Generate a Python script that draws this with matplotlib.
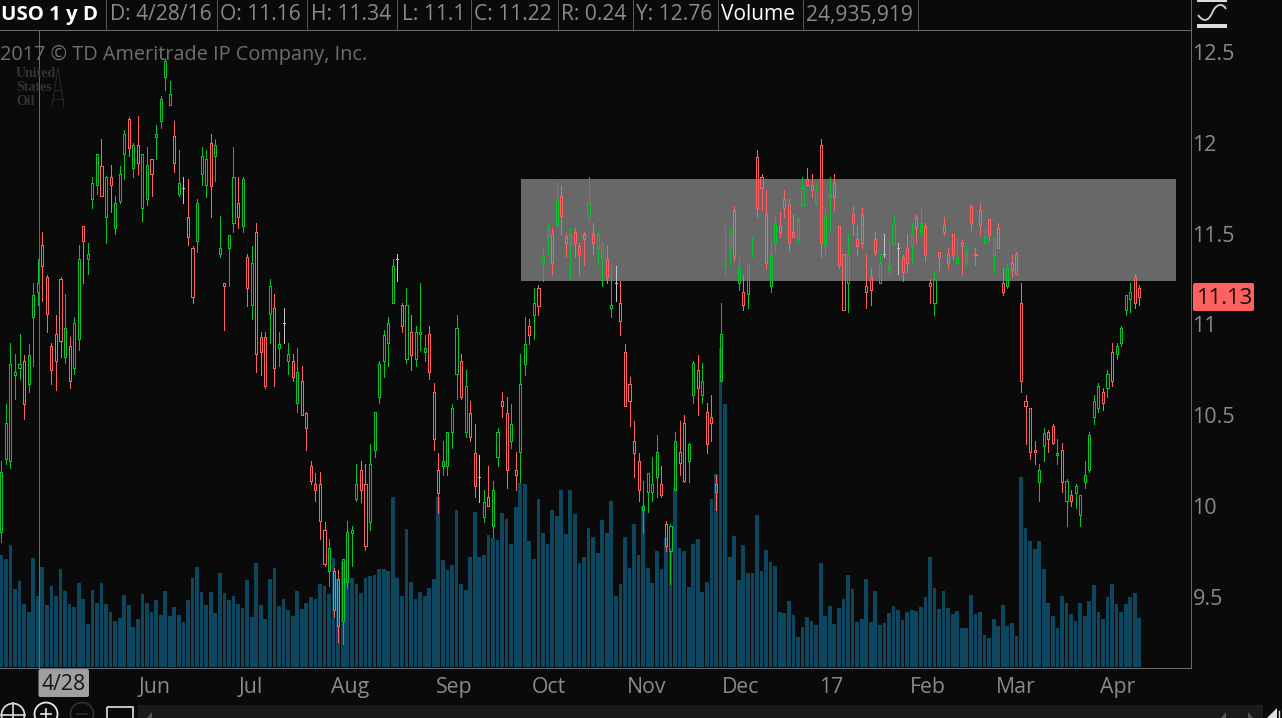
import matplotlib
matplotlib.use("Agg")
import matplotlib.pyplot as plt
from matplotlib.patches import Rectangle, Circle, FancyBboxPatch, Polygon, PathPatch
from matplotlib.path import Path
from matplotlib.lines import Line2D

plt.rcParams['font.family'] = ['Open Sans', 'DejaVu Sans']

high = [10.25,10.56,10.90,10.84,10.95,10.83,10.89,11.23,11.36,11.51,
11.27,10.90,11.05,11.26,11.17,10.93,11.04,11.44,11.54,11.45,
11.81,11.94,12.02,11.82,11.88,11.71,11.87,12.07,12.14,12.00,
12.15,11.94,11.98,11.91,12.10,12.26,12.47,12.34,12.12,11.96,
11.81,11.80,11.43,11.69,11.98,11.96,12.05,12.02,11.60,11.23,
11.49,11.98,11.81,11.81,11.39,11.43,11.56,10.96,10.96,11.25,
11.17,10.96,11.09,10.90,10.84,10.87,10.77,10.52,10.25,10.18,
10.19,9.91,9.82,9.66,9.65,9.71,9.92,9.89,10.23,10.25,
10.23,10.34,10.52,10.80,10.97,11.04,11.36,11.39,11.12,11.20,
11.05,10.99,11.23,10.94,10.99,10.68,10.29,10.36,10.41,10.56,
11.05,10.84,10.75,10.58,10.45,10.28,10.09,10.22,10.14,10.43,
10.63,10.60,10.56,10.30,10.84,11.04,11.03,11.20,11.22,11.42,
11.56,11.53,11.78,11.76,11.50,11.53,11.53,11.45,11.51,11.81,
11.56,11.51,11.45,11.44,11.33,11.32,11.24,10.89,10.71,10.47,
10.29,10.14,10.18,10.27,10.39,10.22,9.92,9.90,10.41,10.47,
10.50,10.35,10.80,10.83,10.79,10.57,10.61,10.17,11.12,11.54,
11.53,11.65,11.37,11.27,11.33,11.48,11.96,11.83,11.74,11.47,
11.60,11.62,11.74,11.69,11.61,11.59,11.81,11.86,11.83,11.78,
12.02,11.64,11.81,11.83,11.54,11.39,11.50,11.65,11.55,11.64,
11.39,11.31,11.51,11.39,11.50,11.47,11.60,11.45,11.38,11.50,
11.56,11.61,11.64,11.56,11.25,11.29,11.40,11.59,11.42,11.50,
11.47,11.47,11.43,11.66,11.42,11.67,11.53,11.58,11.48,11.56,
11.31,11.34,11.38,11.40,11.23,10.61,10.54,10.36,10.23,10.43,
10.42,10.45,10.37,10.35,10.15,10.09,10.12,10.06,10.25,10.41,
10.61,10.68,10.65,10.75,10.90,10.90,10.99,11.16,11.23,11.28,11.22]

body_top = [10.19,10.46,10.78,10.74,10.78,10.80,10.83,11.16,11.23,11.44,
11.26,10.88,10.95,11.25,10.98,10.88,11.01,11.36,11.54,11.39,
11.78,11.94,11.87,11.81,11.81,11.67,11.83,12.05,12.13,11.99,
11.99,11.94,11.88,11.91,12.05,12.24,12.45,12.27,12.04,11.78,
11.75,11.59,11.42,11.67,11.93,11.91,12.00,11.99,11.42,11.23,
11.49,11.81,11.67,11.80,11.37,11.34,11.51,10.93,10.93,11.21,
11.09,10.89,11.01,10.84,10.80,10.74,10.69,10.51,10.22,10.12,
10.12,9.87,9.77,9.64,9.60,9.71,9.86,9.87,10.12,10.20,
10.12,10.23,10.52,10.78,10.94,11.01,11.32,11.36,11.11,11.11,
10.96,10.96,10.96,10.87,10.95,10.63,10.20,10.25,10.41,10.54,
10.98,10.80,10.66,10.51,10.29,10.16,10.02,10.05,10.09,10.41,
10.58,10.51,10.45,10.20,10.67,10.89,10.99,11.12,11.20,11.37,
11.53,11.50,11.69,11.71,11.48,11.50,11.51,11.43,11.50,11.67,
11.50,11.50,11.45,11.36,11.11,11.23,11.12,10.85,10.67,10.36,
10.25,10.00,10.18,10.12,10.30,10.12,9.90,9.89,10.36,10.30,
10.46,10.34,10.79,10.75,10.69,10.52,10.49,10.12,10.95,11.34,
11.50,11.63,11.31,11.18,11.33,11.45,11.92,11.81,11.61,11.38,
11.56,11.54,11.69,11.66,11.51,11.58,11.75,11.80,11.77,11.74,
11.99,11.60,11.72,11.78,11.54,11.39,11.39,11.61,11.47,11.61,
11.21,11.26,11.47,11.34,11.39,11.33,11.55,11.42,11.37,11.42,
11.50,11.59,11.56,11.54,11.23,11.25,11.40,11.55,11.39,11.50,
11.37,11.45,11.40,11.65,11.39,11.63,11.48,11.58,11.47,11.53,
11.23,11.31,11.34,11.39,11.12,10.58,10.54,10.31,10.20,10.40,
10.41,10.44,10.29,10.31,10.14,10.06,10.11,10.06,10.17,10.39,
10.58,10.66,10.63,10.73,10.85,10.88,10.98,11.16,11.18,11.26,11.20]

body_bottom = [9.86,10.26,10.25,10.72,10.76,10.56,10.67,11.04,11.18,11.32,
11.06,10.75,10.80,10.91,10.82,10.69,10.76,10.92,11.46,11.36,
11.69,11.77,11.71,11.59,11.77,11.53,11.68,11.94,11.97,11.86,
11.89,11.64,11.69,11.83,12.03,12.12,12.36,12.21,11.89,11.72,
11.75,11.48,11.15,11.46,11.83,11.77,11.76,11.93,11.39,11.21,
11.42,11.56,11.59,11.54,11.20,11.11,10.84,10.85,10.66,11.06,
10.76,10.87,11.01,10.80,10.71,10.57,10.50,10.43,10.14,10.09,
9.92,9.68,9.64,9.43,9.34,9.37,9.58,9.85,10.04,10.09,
9.78,9.91,10.31,10.60,10.80,10.90,11.12,11.36,10.99,10.81,
10.83,10.81,10.95,10.85,10.74,10.37,10.07,10.22,10.22,10.41,
10.73,10.60,10.41,10.38,10.11,10.16,9.94,10.00,9.89,10.27,
10.55,10.20,10.36,10.17,10.30,10.78,10.94,11.05,11.10,11.34,
11.48,11.34,11.55,11.60,11.45,11.44,11.45,11.39,11.47,11.59,
11.45,11.42,11.37,11.26,11.09,11.23,11.02,10.55,10.58,10.29,
10.09,9.98,10.08,10.08,10.16,10.06,9.78,9.75,10.09,10.24,
10.14,10.25,10.61,10.65,10.61,10.34,10.46,10.08,10.69,11.33,
11.42,11.37,11.23,11.11,11.17,11.45,11.64,11.75,11.34,11.21,
11.45,11.51,11.64,11.45,11.48,11.47,11.66,11.77,11.74,11.67,
11.45,11.44,11.70,11.70,11.33,11.08,11.23,11.56,11.43,11.45,
11.18,11.19,11.40,11.23,11.39,11.31,11.45,11.42,11.29,11.34,
11.44,11.53,11.50,11.39,11.21,11.12,11.37,11.51,11.34,11.39,
11.34,11.43,11.34,11.56,11.38,11.55,11.45,11.49,11.38,11.42,
11.18,11.21,11.30,11.28,10.69,10.55,10.30,10.30,10.13,10.33,
10.37,10.35,10.28,10.13,10.03,10.03,10.07,9.95,10.13,10.20,
10.49,10.54,10.57,10.65,10.69,10.84,10.90,11.08,11.14,11.12,11.15]

low = [9.80,10.23,10.21,10.59,10.70,10.48,10.63,10.77,11.11,11.13,
10.96,10.67,10.64,10.82,10.79,10.65,10.73,10.86,11.23,11.28,
11.64,11.72,11.71,11.45,11.62,11.50,11.67,11.80,11.93,11.81,
11.83,11.57,11.66,11.71,11.91,12.08,12.29,12.21,11.84,11.71,
11.67,11.44,11.12,11.40,11.77,11.70,11.59,11.79,11.37,10.97,
11.21,11.51,11.53,11.51,11.10,11.03,10.74,10.72,10.65,10.90,
10.66,10.77,10.90,10.73,10.69,10.52,10.50,10.31,10.12,10.03,
9.82,9.67,9.56,9.39,9.25,9.24,9.55,9.67,10.03,10.02,
9.76,9.87,10.27,10.57,10.71,10.77,11.12,11.24,10.96,10.79,
10.75,10.77,10.86,10.80,10.70,10.31,9.96,10.17,10.17,10.32,
10.59,10.59,10.38,10.36,10.05,10.02,9.91,10.00,9.83,10.22,
10.49,10.10,10.32,10.09,10.13,10.72,10.89,10.92,11.05,11.24,
11.39,11.28,11.54,11.49,11.37,11.25,11.37,11.28,11.33,11.56,
11.39,11.34,11.21,11.23,11.04,11.13,10.94,10.55,10.44,10.16,
10.03,9.85,9.97,10.03,10.05,10.05,9.75,9.57,10.09,10.17,
10.13,10.13,10.57,10.50,10.57,10.29,10.36,9.98,10.69,11.27,
11.33,11.35,11.19,11.08,11.09,11.37,11.59,11.63,11.31,11.18,
11.40,11.48,11.59,11.41,11.48,11.45,11.65,11.76,11.70,11.66,
11.37,11.37,11.52,11.63,11.31,11.08,11.07,11.49,11.38,11.42,
11.09,11.11,11.38,11.23,11.37,11.28,11.44,11.28,11.24,11.29,
11.34,11.45,11.48,11.35,11.12,11.05,11.30,11.49,11.31,11.36,
11.33,11.28,11.32,11.52,11.33,11.50,11.45,11.46,11.29,11.42,
11.16,11.20,11.26,11.28,10.63,10.34,10.26,10.23,10.03,10.25,
10.30,10.34,10.23,10.08,9.89,10.00,9.99,9.89,10.10,10.19,
10.45,10.52,10.53,10.60,10.66,10.81,10.88,11.05,11.07,11.09,11.11]

direction = ("GGGGGRGGGR" "RRRRGRGGRG" "GGRGRGGGRG" "RGGRGGGGRG"
             "NRRGGGRGGR" "GGRGRGRRRG" "RGNGRGRRRR" "RRGRRGGGGR"
             "RGGGGGGNRG" "RGGGRRRGGG" "GRGRRNGRGG" "RRGRGGRGRG"
             "GRGRRGRRRG" "RGGRGNRRRR" "RGGGGRRGGR" "RGGRGRRRGG"
             "GRGRGGRRRG" "GRRRRGGRRG" "RGGRRRGRRR" "RRRGNGGNRR"
             "GRGRRGRRRR" "GRGRRRGRGR" "RGRRRRRRGG" "RRGRGRGGGG"
             "GGRGRGGGGRR")

volume_m = [39.3,37.9,42.8,27.4,30.2,22.1,19.3,38.3,24.9,35.1,
21.8,28.4,24.9,34.4,26.7,22.1,21.1,29.5,23.9,15.1,
27.0,22.5,29.5,22.1,19.3,16.1,17.2,25.3,21.8,14.0,
16.8,25.6,22.5,19.3,23.5,18.3,26.7,17.9,21.1,18.3,
15.8,23.5,31.2,35.1,26.3,21.8,26.3,19.0,33.0,26.0,
23.5,24.9,22.1,20.7,30.5,17.6,36.5,21.8,16.8,30.9,
34.7,21.4,23.9,20.0,17.9,26.7,20.4,22.5,24.6,23.9,
29.1,28.4,25.6,38.3,30.9,36.9,31.2,31.2,29.1,26.0,
31.2,31.9,32.3,34.4,34.4,33.7,59.7,31.2,24.9,48.4,
29.8,23.9,26.3,24.9,27.7,30.9,59.7,37.6,34.0,35.8,
55.1,29.1,27.0,38.6,54.4,38.6,39.3,46.3,45.3,44.6,
54.1,51.9,43.2,56.2,64.6,64.2,44.2,37.9,59.0,47.0,
43.2,55.1,53.0,62.1,46.7,62.1,53.7,36.5,38.6,48.8,
45.6,40.0,51.6,47.0,58.3,24.9,29.1,45.6,34.7,50.2,
39.3,56.5,34.7,29.5,40.7,34.4,45.3,41.8,62.8,41.8,
40.7,28.1,43.2,44.9,26.3,29.8,59.0,67.7,112.0,92.3,
38.6,46.0,30.5,42.8,33.0,33.0,53.4,33.7,41.1,36.9,
35.5,19.3,19.0,23.2,18.3,10.5,14.0,17.6,16.1,14.7,
36.5,17.9,21.4,15.1,20.7,23.9,32.3,27.4,15.8,16.8,
30.9,15.8,26.7,14.7,15.4,19.0,21.4,20.0,16.5,19.3,
20.0,19.7,21.1,24.6,38.6,27.7,20.4,26.7,20.7,18.6,
19.7,13.7,13.7,25.3,18.6,19.3,11.2,10.2,16.8,14.4,
21.8,14.4,15.4,10.9,66.7,48.8,44.2,41.4,44.2,34.4,
22.5,17.9,13.7,24.9,22.5,18.6,16.1,22.5,17.9,23.2,
28.8,19.3,16.8,24.6,29.1,22.1,19.3,22.1,24.6,26.0,17.2]

price_ticks = [12.5, 12, 11.5, 11, 10.5, 10, 9.5]
price_labels = ["12.5", "12", "11.5", "11", "10.5", "10", "9.5"]
month_positions = [33.76, 54.85, 76.6, 99.4, 120.3, 141.8, 162.5, 182.3, 203.6, 222.9, 245.3]
month_labels = ["Jun", "Jul", "Aug", "Sep", "Oct", "Nov", "Dec", "17", "Feb", "Mar", "Apr"]
zone_start, zone_end = 114.16, 258.05
zone_low, zone_high = 11.24, 11.80
last_price = 11.13

header_cells = [("USO 1 y D", 1, "white", "bold"), ("D: 4/28/16", 110, "#8a8a8a", "normal"),
                ("O: 11.16", 220, "#8a8a8a", "normal"), ("H: 11.34", 311, "#8a8a8a", "normal"),
                ("L: 11.1", 402, "#8a8a8a", "normal"), ("C: 11.22", 474, "#8a8a8a", "normal"),
                ("R: 0.24", 561, "#8a8a8a", "normal"), ("Y: 12.76", 636, "#8a8a8a", "normal"),
                ("Volume", 721, "white", "normal"), ("24,935,919", 806, "#8a8a8a", "normal")]
header_seps = [105, 216, 306, 396, 470, 557, 632, 717, 802, 917]

BG = "#0a0a0a"; GREEN = "#05c42c"; RED = "#ff6060"; DOJI = "#c4c4c4"
VOL = "#0d465f"; ZONE = "#686868"; LINE = "#6a6a6a"; TXT = "#8a8a8a"
W, H = 1282, 718
fig = plt.figure(figsize=(W / 100, H / 100), dpi=100, facecolor=BG)
rect = [0, (H - 667) / H, 1190 / W, 638 / H]

ax_vol = fig.add_axes(rect, facecolor=BG)
ax = fig.add_axes(rect, facecolor="none")
x = list(range(len(high)))
xlim = (-0.292, 261.13)

ax_vol.bar(x, volume_m, width=0.82, color=VOL, linewidth=0, antialiased=False)
ax_vol.set_xlim(xlim)
ax_vol.set_ylim(0, 224)
ax_vol.axis("off")

ax.add_patch(Rectangle((zone_start, zone_low), zone_end - zone_start, zone_high - zone_low,
                       facecolor=ZONE, edgecolor="none", zorder=1))
cmap = {"G": GREEN, "R": RED, "N": DOJI}
colors = [cmap[d] for d in direction]
ax.vlines(x, body_top, high, colors=colors, linewidth=0.72, zorder=3, antialiased=False)
ax.vlines(x, low, body_bottom, colors=colors, linewidth=0.72, zorder=3, antialiased=False)
heights = [t - b for t, b in zip(body_top, body_bottom)]
ax.bar(x, heights, bottom=body_bottom, width=0.46, fill=False, edgecolor=colors,
       linewidth=0.72, zorder=3, antialiased=False)
ax.set_xlim(xlim)
ax.set_ylim(9.114, 12.627)
ax.yaxis.tick_right()
ax.set_yticks(price_ticks, price_labels)
ax.set_xticks(month_positions, month_labels)
ax.tick_params(axis="y", length=0, pad=1.8, labelsize=15.5, labelcolor=TXT)
ax.tick_params(axis="x", length=0, pad=7.5, labelsize=15.3, labelcolor=TXT)
for s in ax.spines.values():
    s.set_visible(False)

# Chrome drawn in screen pixels
px = fig.add_axes([0, 0, 1, 1], facecolor="none")
px.set_xlim(0, W); px.set_ylim(H, 0); px.axis("off")
def line(xs, ys, c=LINE, lw=0.75):
    px.add_line(Line2D(xs, ys, color=c, lw=lw))
line([0, 1190.5], [29.5, 29.5])
line([0, 1190.5], [667.5, 667.5])
line([1190.5, 1190.5], [0, 667.5])
line([38.5, 38.5], [29.5, 667.5])
for sx in header_seps:
    line([sx + .5, sx + .5], [0, 29], c="#555555")
for label, hx, col, wt in header_cells:
    px.text(hx, 15, label, color=col, fontweight=wt, fontsize=15.1 if wt == "normal" else 14.7,
            ha="left", va="center")
px.text(0, 55, "2017 © TD Ameritrade IP Company, Inc.", color="#6e6e6e", fontsize=14.35, va="center")

# Logo watermark
for ty, t in [(73.5, "United"), (87.5, "States"), (101.5, "Oil")]:
    px.text(16, ty, t, color="#333333", fontsize=10, family="Liberation Serif", fontweight="bold", va="center")
for xs, ys in [([52, 58, 64], [107, 68, 107]), ([55, 61], [90, 90]), ([53, 63], [99, 99])]:
    line(xs, ys, c="#2a2a2a", lw=0.7)

# Date and price flags
px.add_patch(FancyBboxPatch((38.5, 669), 50.5, 28, boxstyle="round,pad=0,rounding_size=2",
                            facecolor="#a0a0a0", edgecolor="none"))
px.text(63.5, 685, "4/28", color="#15151f", fontsize=15.3, ha="center", va="center")
px.add_patch(FancyBboxPatch((1193, 283), 61, 28, boxstyle="round,pad=0,rounding_size=2",
                            facecolor="#ff6060", edgecolor="none"))
px.text(1224, 299, f"{last_price:.2f}", color="#101010", fontsize=15.8, ha="center", va="center")

# Bottom toolbar
px.add_patch(Rectangle((138, 705), 1124.5, 13, facecolor="#1b1b1b", edgecolor="none"))
px.add_patch(Polygon([[147, 718], [152, 712], [152, 718]], facecolor="#555555"))
px.add_patch(Polygon([[1221, 718], [1226, 712], [1226, 718]], facecolor="#555555"))
px.add_patch(Polygon([[1248, 712], [1253, 718], [1248, 718]], facecolor="#555555"))
px.add_patch(Polygon([[1267, 718], [1277, 708], [1277, 718]], facecolor="#e0e0e0"))
line([1279, 1279], [711, 718], c="#e0e0e0", lw=1)
px.add_patch(Circle((13, 715), 11.5, fill=False, edgecolor="#d8d8d8", lw=1.3))
line([1, 25], [715, 715], c="#d8d8d8", lw=1.2)
line([13, 13], [703, 718], c="#d8d8d8", lw=1.2)
px.add_patch(Circle((46, 714), 11.5, fill=False, edgecolor="#e8e8e8", lw=1.3))
line([41, 51], [714, 714], c="#e8e8e8", lw=1.2)
line([46, 46], [709, 718], c="#e8e8e8", lw=1.2)
px.add_patch(Circle((82, 714), 11.5, fill=False, edgecolor="#303030", lw=1.3))
line([77, 87], [714, 714], c="#303030", lw=1.2)
px.add_patch(Rectangle((107, 706.5), 26, 14, fill=False, edgecolor="#e0e0e0", lw=1.2))

# Study icon, top right
px.add_patch(Rectangle((1197, 0), 30, 1.5, facecolor="#dcdcdc", edgecolor="none"))
px.add_patch(Rectangle((1197, 24), 30, 3.5, facecolor="#dcdcdc", edgecolor="none"))
px.add_patch(PathPatch(Path([(1198, 15), (1206, 26), (1211, 16), (1213, 11), (1216, 5), (1222, 2), (1226, 9)],
                            [Path.MOVETO, Path.CURVE4, Path.CURVE4, Path.CURVE4, Path.CURVE4, Path.CURVE4, Path.CURVE4]),
                       fill=False, edgecolor="#c8c8c8", lw=1.4))

fig.savefig("out.png", dpi=100, facecolor=BG)
